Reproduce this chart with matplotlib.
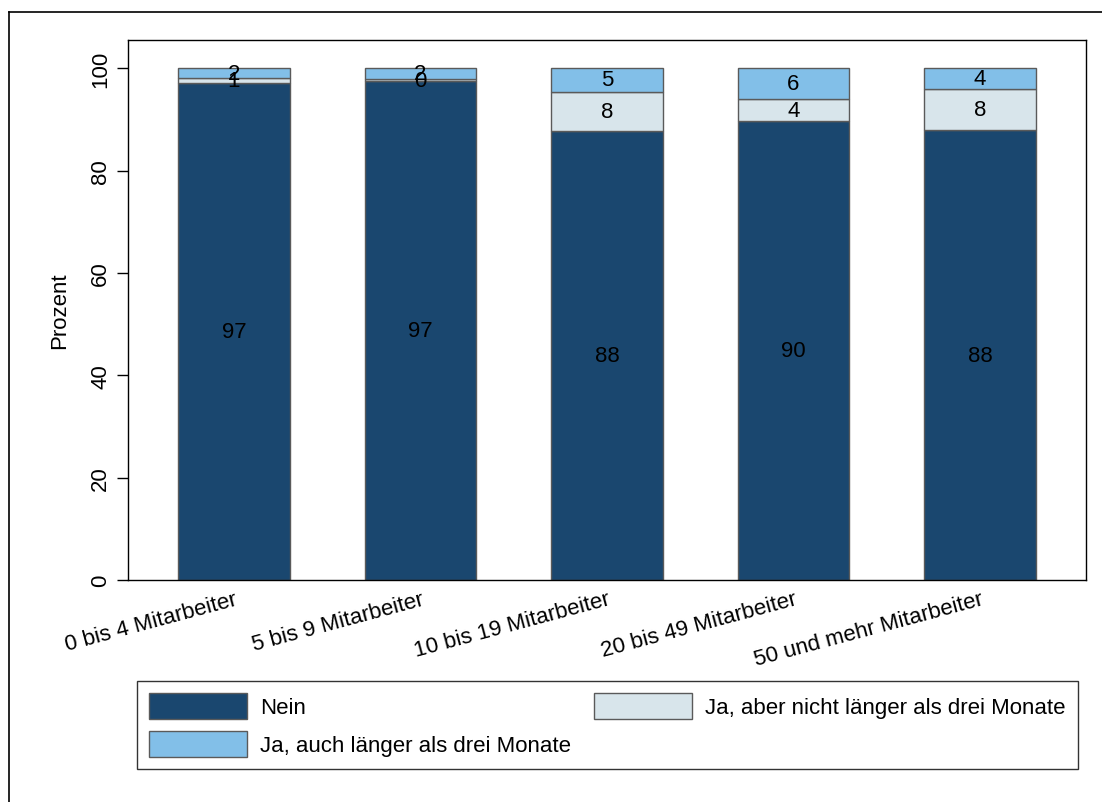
import matplotlib
matplotlib.use("Agg")
import matplotlib.pyplot as plt
from matplotlib.lines import Line2D
from matplotlib.patches import Patch
import numpy as np

plt.rcParams['font.family'] = ['Liberation Sans', 'DejaVu Sans']

# Data: share of firms (percent) by firm size
categories = ["0 bis 4 Mitarbeiter", "5 bis 9 Mitarbeiter", "10 bis 19 Mitarbeiter",
              "20 bis 49 Mitarbeiter", "50 und mehr Mitarbeiter"]
nein = [97.1, 97.4, 87.8, 89.6, 87.9]
ja_kurz = [0.9, 0.4, 7.6, 4.4, 8.0]
ja_lang = [2.0, 2.2, 4.6, 6.0, 4.1]

series_labels = ["Nein", "Ja, aber nicht länger als drei Monate", "Ja, auch länger als drei Monate"]
colors = ["#1a476f", "#d8e5eb", "#82bfe8"]

FS = 16
W, H = 1102, 803
fig = plt.figure(figsize=(W / 100, H / 100), dpi=100)

# outer frame lines (top and left)
fig.add_artist(Line2D([8.5 / W, 8.5 / W], [0, 1 - 13 / H], color="black", lw=1.2,
                      transform=fig.transFigure))
fig.add_artist(Line2D([8.5 / W, 1], [1 - 13 / H, 1 - 13 / H], color="black", lw=1.2,
                      transform=fig.transFigure))

ax = fig.add_axes([128 / W, 1 - 581 / H, (1086 - 128) / W, (581 - 41) / H])

x = np.arange(len(categories))
width = 0.6
bottom = np.zeros(len(categories))
for vals, col in zip([nein, ja_kurz, ja_lang], colors):
    vals = np.array(vals)
    ax.bar(x, vals, width, bottom=bottom, color=col, edgecolor="#5a5a5a", linewidth=1.0,
           zorder=2)
    for xi, b, v in zip(x, bottom, vals):
        ax.text(xi, b + v / 2, f"{v:.0f}", ha="center", va="center", fontsize=FS,
                color="black", zorder=3)
    bottom += vals

ax.set_xlim(-0.568, len(categories) - 1 + 0.568)
ax.set_ylim(0, 105.5)

ax.set_yticks([0, 20, 40, 60, 80, 100])
ax.set_yticklabels(["0", "20", "40", "60", "80", "100"], rotation=90, va="center")
ax.tick_params(axis="y", length=8, width=1, pad=4, labelsize=FS, direction="out")
ax.set_ylabel("Prozent", fontsize=FS)
ax.yaxis.set_label_coords(-0.0605, 0.5)

ax.set_xticks(x)
ax.set_xticklabels(categories, rotation=15, ha="right", va="top", rotation_mode="anchor",
                   fontsize=FS)
ax.tick_params(axis="x", length=0, pad=6)

for s in ax.spines.values():
    s.set_color("black")
    s.set_linewidth(1.0)

handles = [Patch(facecolor=colors[0], edgecolor="#5a5a5a"),
           Patch(facecolor=colors[2], edgecolor="#5a5a5a"),
           Patch(facecolor=colors[1], edgecolor="#5a5a5a")]
labels = [series_labels[0], series_labels[2], series_labels[1]]
leg = fig.legend(handles, labels, ncol=2, loc="upper left",
                 bbox_to_anchor=(137 / W, 1 - 772 / H, (1078 - 137) / W, (772 - 682) / H),
                 mode="expand", fontsize=FS, frameon=True, fancybox=False,
                 edgecolor="black", handlelength=4.4, handleheight=1.4,
                 handletextpad=0.6, borderpad=0.55, labelspacing=0.55,
                 columnspacing=1.0, borderaxespad=0)
leg.get_frame().set_linewidth(1.0)

fig.savefig("out.png", dpi=100)
